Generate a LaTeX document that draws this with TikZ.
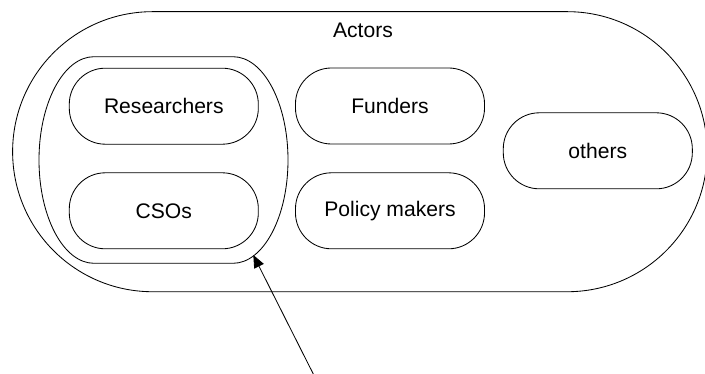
\documentclass[tikz,border=0pt]{standalone}
\usepackage{fontspec}
\setmainfont{Liberation Sans}
\usepackage{tikz}
\usetikzlibrary{arrows.meta}

\begin{document}
\begin{tikzpicture}[x=0.025cm, y=-0.025cm, line width=0.6pt,
    actor/.style={draw, rounded corners=0.9cm, minimum width=4.725cm, minimum height=1.9cm, font=\fontsize{15pt}{18pt}\selectfont}]
      \useasboundingbox (0,0) rectangle (705,374);
      \node[draw, rounded corners=3.5cm, minimum width=17.36cm, minimum height=7cm] (actors) at (359.9,151.7) {};
      \node[font=\fontsize{15pt}{18pt}\selectfont] (actorstitle) at (363,30) {Actors};
      \draw (94,56.7) -- (233,56.7) arc[start angle=-90, end angle=90, x radius=55, y radius=103.3]
        -- (94,263.3) arc[start angle=90, end angle=270, x radius=55, y radius=103.3] -- cycle;
      \node[actor] (researchers) at (163.8,106.2) {Researchers};
      \node[actor] (csos) at (163.8,210.8) {CSOs};
      \node[actor] (funders) at (390,106) {Funders};
      \node[actor] (policy) at (390,210.8) {Policy makers};
      \node[actor] (others) at (597.8,150.8) {others};
      \coordinate (grouptip) at (253.3,255);
      \coordinate (arrowtail) at (313.3,374);
      \draw[-{Triangle[length=9pt, width=7.5pt]}] (arrowtail) -- (grouptip);
    \end{tikzpicture}
\end{document}
